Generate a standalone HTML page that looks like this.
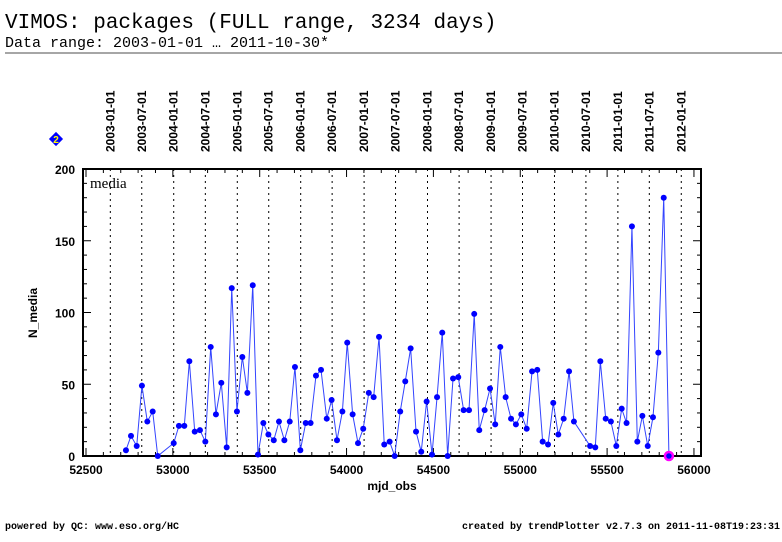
<!DOCTYPE html>
<html><head><meta charset="utf-8"><style>
body{margin:0;background:#fff;width:782px;height:542px;overflow:hidden}
svg{display:block}
.t{font-family:"Liberation Sans",sans-serif;font-weight:bold;font-size:12px;fill:#000}
</style></head><body>
<svg id="c" width="782" height="542" xmlns="http://www.w3.org/2000/svg">
<text x="5" y="28" font-family="Liberation Mono,monospace" font-size="21">VIMOS: packages (FULL range, 3234 days)</text>
<text x="5" y="47" font-family="Liberation Mono,monospace" font-size="15">Data range: 2003-01-01 … 2011-10-30*</text>
<line x1="5" y1="53" x2="782" y2="53" stroke="#888" stroke-width="1.5"/>
<g id="plot"></g>
<text x="90" y="188" font-family="Liberation Serif,serif" font-size="15">media</text>
<text x="392" y="490" text-anchor="middle" class="t">mjd_obs</text>
<text transform="translate(37,313) rotate(-90)" text-anchor="middle" class="t">N_media</text>
<g><rect x="51" y="134" width="10" height="10" fill="#00f" transform="rotate(45 56 139)"/><text x="56" y="143" text-anchor="middle" font-family="Liberation Sans" font-weight="bold" font-size="10" fill="#ff0">2</text></g>
<text x="5" y="529" font-family="Liberation Mono,monospace" font-weight="bold" font-size="10">powered by QC: www.eso.org/HC</text>
<text x="780" y="529" text-anchor="end" font-family="Liberation Mono,monospace" font-weight="bold" font-size="10">created by trendPlotter v2.7.3 on 2011-11-08T19:23:31</text>
</svg>
<script>
const mjd=[52730,52759,52792,52822,52853,52884,52913,53005,53035,53066,53095,53126,53156,53187,53218,53248,53279,53310,53339,53369,53400,53429,53460,53490,53521,53550,53581,53611,53642,53673,53703,53734,53765,53793,53824,53853,53886,53914,53945,53976,54004,54035,54066,54096,54128,54156,54187,54217,54248,54277,54309,54338,54369,54400,54430,54461,54492,54521,54551,54582,54613,54643,54674,54705,54735,54764,54795,54826,54856,54885,54916,54947,54975,55006,55037,55068,55098,55129,55160,55190,55219,55250,55281,55309,55402,55432,55461,55492,55522,55553,55584,55612,55643,55674,55703,55734,55764,55795,55826,55856];
const media=[4,14,7,49,24,31,0,9,21,21,66,17,18,10,76,29,51,6,117,31,69,44,119,1,23,15,11,24,11,24,62,4,23,23,56,60,26,39,11,31,79,29,9,19,44,41,83,8,10,0,31,52,75,17,3,38,1,41,86,0,54,55,32,32,99,18,32,47,22,76,41,26,22,29,19,59,60,10,8,37,15,26,59,24,7,6,66,26,24,7,33,23,160,10,28,7,27,72,180,0];
const xTicks=[52500,53000,53500,54000,54500,55000,55500,56000];
const yTicks=[0,50,100,150,200];
const dateLabels=["2003-01-01","2003-07-01","2004-01-01","2004-07-01","2005-01-01","2005-07-01","2006-01-01","2006-07-01","2007-01-01","2007-07-01","2008-01-01","2008-07-01","2009-01-01","2009-07-01","2010-01-01","2010-07-01","2011-01-01","2011-07-01","2012-01-01"];
const dateMjd=[52640,52821,53005,53187,53371,53552,53736,53917,54101,54282,54466,54648,54832,55013,55197,55378,55562,55743,55927];
const X0=86,XS=0.1737,Y0=456,YS=1.435,L=83,R=701,T=169,B=456;
const X=m=>X0+(m-52500)*XS, Y=v=>Y0-v*YS;
const NS="http://www.w3.org/2000/svg", g=document.getElementById('plot');
function mk(t,a){const e=document.createElementNS(NS,t);for(const k in a)e.setAttribute(k,a[k]);g.appendChild(e);return e;}
dateMjd.forEach((m,i)=>{
 const l=mk('line',{x1:X(m),y1:T,x2:X(m),y2:B,stroke:'#000','stroke-width':1,'stroke-dasharray':'2,4'});
 
 
 const t=mk('text',{transform:`translate(${X(m)+4},152) rotate(-90)`,class:'t','font-size':11});
 t.textContent=dateLabels[i];
 
 
});
const fr=mk('rect',{x:L,y:T,width:R-L,height:B-T,fill:'none',stroke:'#000','stroke-width':2});


for(let m=52500;m<=56000;m+=100){const h=(m%500===0)?8:4;
 mk('line',{x1:X(m),y1:B,x2:X(m),y2:B-h,stroke:'#000'});mk('line',{x1:X(m),y1:T,x2:X(m),y2:T+h,stroke:'#000'});}
for(let v=0;v<=200;v+=10){const h=(v%50===0)?8:4;
 mk('line',{x1:L,y1:Y(v),x2:L+h,y2:Y(v),stroke:'#000'});mk('line',{x1:R,y1:Y(v),x2:R-h,y2:Y(v),stroke:'#000'});}
xTicks.forEach(m=>{const t=mk('text',{x:X(m),y:474,'text-anchor':'middle',class:'t','font-size':13});t.textContent=m;
 
 });
yTicks.forEach(v=>{const t=mk('text',{x:75,y:Y(v)+5,'text-anchor':'end',class:'t','font-size':13});t.textContent=v;
 
 });
const pl=mk('polyline',{points:mjd.map((m,i)=>X(m)+','+Y(media[i])).join(' '),fill:'none',stroke:'#3344ff','stroke-width':1});


mjd.forEach((m,i)=>{const c=mk('circle',{cx:X(m),cy:Y(media[i]),r:3,fill:'#0000ff'});
 
 });
const last=mjd.length-1;
const ring=mk('circle',{cx:X(mjd[last]),cy:Y(media[last]),r:4,fill:'none',stroke:'#ff00ff','stroke-width':2.5});


</script>
</body></html>
